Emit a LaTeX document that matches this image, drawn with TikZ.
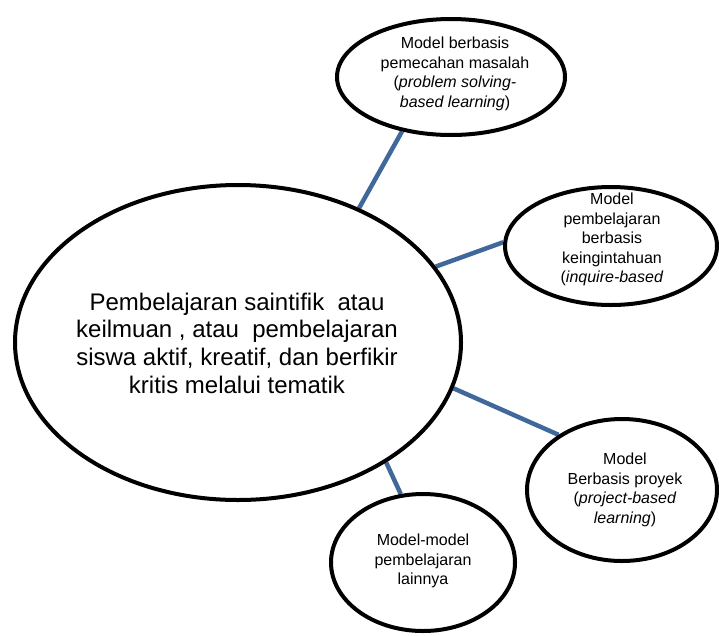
\documentclass[tikz,border=0pt]{standalone}
\usepackage{fontspec}
\setmainfont{Liberation Sans}
\usetikzlibrary{shapes.geometric,backgrounds}
\definecolor{linkblue}{RGB}{64,104,154}
\tikzset{
  bubble/.style={ellipse,draw=black,line width=4pt,fill=white,inner sep=0pt},
  link/.style={draw=linkblue,line width=4.5pt},
  smalltext/.style={align=center,inner sep=0pt,font=\fontsize{16}{19.6}\selectfont},
  bigtext/.style={align=center,inner sep=0pt,font=\fontsize{24}{27.7}\selectfont}
}
\begin{document}
\begin{tikzpicture}[x=1pt,y=-1pt]
\useasboundingbox (0,0) rectangle (719,635);
\node[bubble,minimum width=446pt,minimum height=315pt] (big) at (238,342.5) {};
\node[bubble,minimum width=228pt,minimum height=116pt] (top) at (451,77) {};
\node[bubble,minimum width=212pt,minimum height=118pt] (right) at (611,246) {};
\node[bubble,minimum width=190pt,minimum height=142pt] (proj) at (622,490) {};
\node[bubble,minimum width=184pt,minimum height=137pt] (other) at (423,562.5) {};
\begin{pgfonlayer}{background}
\draw[link] (big.48) -- (top.228);
\draw[link] (big.21) -- (right.178);
\draw[link] (big.-12.5) -- (proj.139);
\draw[link] (big.-39.7) -- (other.108);
\end{pgfonlayer}
\node[bigtext] (bigt) at (237,343) {Pembelajaran saintifik \ atau\\keilmuan , atau \ pembelajaran\\siswa aktif, kreatif, dan berfikir\\kritis melalui tematik};
\node[smalltext] (topt) at (455,74) {Model berbasis\\pemecahan masalah\\(\textit{problem solving-}\\\textit{based learning})};
\begin{scope}
\clip (500,150) rectangle (719,285.5);
\node[smalltext] (rightt) at (612,239.5) {Model\\pembelajaran\\berbasis\\keingintahuan\\(\textit{inquire-based}};
\end{scope}
\node[smalltext] (projt) at (625,490) {Model\\Berbasis proyek\\(\textit{project-based}\\\textit{learning})};
\node[smalltext] (othert) at (423,561) {Model-model\\pembelajaran\\lainnya};
\end{tikzpicture}
\end{document}
